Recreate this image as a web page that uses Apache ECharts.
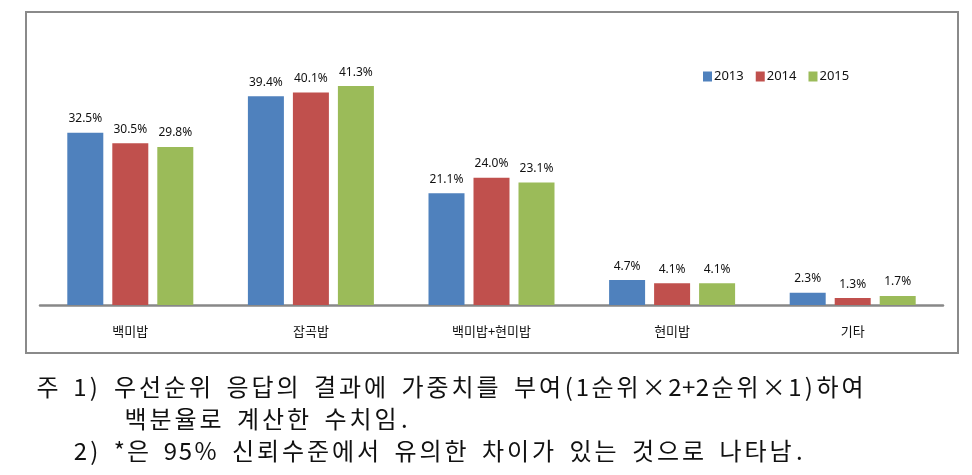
<!DOCTYPE html>
<html>
<head>
<meta charset="utf-8">
<script src="https://cdn.jsdelivr.net/npm/echarts@6/dist/echarts.min.js"></script>
<style>
html,body{margin:0;padding:0;background:#fff;}
#c{width:972px;height:475px;}
</style>
</head>
<body>
<div id="c"></div>
<script>
var categories = ['백미밥', '잡곡밥', '백미밥+현미밥', '현미밥', '기타'];
var seriesNames = ['2013', '2014', '2015'];
var values2013 = [32.5, 39.4, 21.1, 4.7, 2.3];
var values2014 = [30.5, 40.1, 24.0, 4.1, 1.3];
var values2015 = [29.8, 41.3, 23.1, 4.1, 1.7];
var colors = ['#4f81bd', '#c0504d', '#9bbb59'];

var noteLines = [
  '주 1) 우선순위 응답의 결과에 가중치를 부여(1순위×2+2순위×1)하여',
  '백분율로 계산한 수치임.',
  '2) *은 95% 신뢰수준에서 유의한 차이가 있는 것으로 나타남.'
];

var chart = echarts.init(document.getElementById('c'), null, {renderer: 'canvas'});

function mkSeries(name, data, color) {
  return {
    name: name,
    type: 'bar',
    data: data,
    barWidth: 36,
    barGap: '25%',
    itemStyle: {color: color},
    label: {
      show: true,
      position: 'top',
      distance: 8,
      color: '#111',
      fontSize: 12,
      fontFamily: 'Noto Sans, sans-serif',
      formatter: function (p) { return p.value.toFixed(1) + '%'; }
    }
  };
}

var graphics = [{
  type: 'rect',
  shape: {x: 26, y: 12, width: 932, height: 341},
  style: {fill: 'none', stroke: '#8a8a8a', lineWidth: 2},
  z: 0
}];

// footnote layout: fixed cells per character (Hangul full-width, digits slightly wider than half)
var NOTE_FS = 25;
function cellW(ch) {
  var c = ch.charCodeAt(0);
  if (c >= 0xAC00 && c <= 0xD7A3) return NOTE_FS;
  if (ch === '%') return NOTE_FS;
  if (ch === '×') return NOTE_FS * 1.1;
  if (ch >= '0' && ch <= '9') return NOTE_FS * 0.6;
  return NOTE_FS / 2;
}
function addNote(line, x0, y) {
  var x = x0;
  for (var k = 0; k < line.length; k++) {
    var ch = line[k];
    var w = cellW(ch);
    if (ch !== ' ') {
      graphics.push({
        type: 'text',
        x: x + w / 2, y: y,
        style: {
          text: ch, fill: '#111', fontSize: NOTE_FS - 1,
          fontFamily: '"Noto Sans CJK KR", sans-serif',
          verticalAlign: 'middle', align: 'center'
        }
      });
    }
    x += w;
  }
}
addNote(noteLines[0], 35, 387);
addNote(noteLines[1], 123, 419);
addNote(noteLines[2], 73, 451);

chart.setOption({
  animation: false,
  backgroundColor: '#fff',
  legend: {
    data: seriesNames,
    left: 698, top: 65,
    itemWidth: 9, itemHeight: 10,
    itemGap: 12,
    icon: 'rect',
    textStyle: {fontSize: 13, color: '#111', fontFamily: 'Noto Sans, sans-serif', padding: [0, 0, 0, -3]}
  },
  grid: {left: 40, right: 29, top: 40, bottom: 170, containLabel: false},
  xAxis: {
    type: 'category',
    data: categories,
    axisLine: {lineStyle: {color: '#888', width: 2.5}},
    axisTick: {show: false},
    axisLabel: {color: '#111', fontSize: 13, margin: 20, fontFamily: '"Noto Sans CJK KR", sans-serif'}
  },
  yAxis: {
    type: 'value', min: 0, max: 50,
    show: false,
    splitLine: {show: false}
  },
  series: [
    mkSeries(seriesNames[0], values2013, colors[0]),
    mkSeries(seriesNames[1], values2014, colors[1]),
    mkSeries(seriesNames[2], values2015, colors[2])
  ],
  graphic: graphics
});
</script>
</body>
</html>
